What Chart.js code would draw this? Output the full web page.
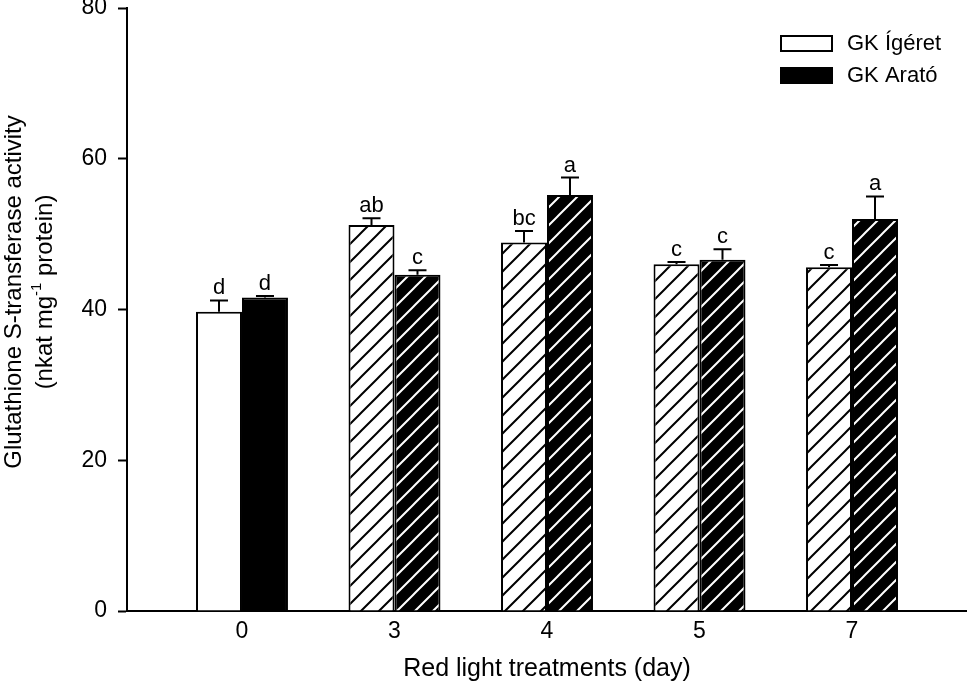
<!DOCTYPE html>
<html>
<head>
<meta charset="utf-8">
<script src="https://cdn.jsdelivr.net/npm/chart.js@4"></script>
<style>
body{margin:0;background:#fff}
canvas{display:block}
</style>
</head>
<body>
<canvas id="gstChart" width="967" height="684"></canvas>
<script>
// values
let days = ["0","3","4","5","7"]
let igeret = [39.7, 51.2, 48.9, 46.0, 45.6]
let igeretErr = [1.5, 0.9, 1.5, 0.3, 0.3]
let igeretLetters = ["d","ab","bc","c","c"]
let arato = [41.6, 44.6, 55.2, 46.6, 52.0]
let aratoErr = [0.2, 0.6, 2.3, 1.4, 3.0]
let aratoLetters = ["d","c","a","c","a"]
let yTicks = [0,20,40,60,80]

let FONT = "'Liberation Sans', Arial, sans-serif"

let canvas = document.getElementById("gstChart")
let ctx = canvas.getContext("2d")

function hatch(bg, fg){
let size = 18
let c = document.createElement("canvas")
c.width = size
c.height = size
let g = c.getContext("2d")
g.fillStyle = bg
g.fillRect(0,0,size,size)
g.strokeStyle = fg
g.lineWidth = 2
g.beginPath()
g.moveTo(-2,size+2); g.lineTo(size+2,-2)
g.moveTo(-2,2); g.lineTo(2,-2)
g.moveTo(size-2,size+2); g.lineTo(size+2,size-2)
g.stroke()
return ctx.createPattern(c,"repeat")
}

// day 0 is plain, the red light days are hatched
let whiteFill = days.map((d,i)=> i==0 ? "#ffffff" : hatch("#ffffff","#000000"))
let blackFill = days.map((d,i)=> i==0 ? "#000000" : hatch("#000000","#ffffff"))

// ===== error bars + letters =====
let errorBars = {
id:"errorBars",
afterDatasetsDraw(chart){
let c = chart.ctx
let y = chart.scales.y
chart.data.datasets.forEach((ds,di)=>{
let meta = chart.getDatasetMeta(di)
meta.data.forEach((bar,i)=>{
let top = y.getPixelForValue(ds.data[i] + ds.errors[i])
c.save()
c.strokeStyle = "#000"
c.lineWidth = 2
c.beginPath()
c.moveTo(bar.x, bar.y)
c.lineTo(bar.x, top)
c.moveTo(bar.x-9, top)
c.lineTo(bar.x+9, top)
c.stroke()
c.fillStyle = "#000"
c.font = "22px " + FONT
c.textAlign = "center"
c.textBaseline = "alphabetic"
c.fillText(ds.letters[i], bar.x, top-6)
c.restore()
})
})
}
}

// ===== legend + y title =====
let extras = {
id:"extras",
afterDraw(chart){
let c = chart.ctx
c.save()
chart.data.datasets.forEach((ds,i)=>{
let by = 35 + i*32
c.fillStyle = ds.legendColor
c.fillRect(780,by,53,17)
c.strokeStyle = "#000"
c.lineWidth = 2
c.strokeRect(781,by+1,51,15)
c.fillStyle = "#000"
c.font = "22px " + FONT
c.textAlign = "left"
c.textBaseline = "middle"
c.fillText(ds.label, 847, by+9)
})

c.fillStyle = "#000"
c.translate(14,292)
c.rotate(-Math.PI/2)
c.font = "24px " + FONT
c.textAlign = "center"
c.textBaseline = "middle"
c.fillText("Glutathione S-transferase activity", 0, 0)

let a = "(nkat mg", sup = "-1", b = " protein)"
c.font = "24px " + FONT
let wa = c.measureText(a).width
let wb = c.measureText(b).width
c.font = "15px " + FONT
let ws = c.measureText(sup).width
let x0 = -(wa+ws+wb)/2
c.textAlign = "left"
c.font = "24px " + FONT
c.fillText(a, x0, 31)
c.font = "15px " + FONT
c.fillText(sup, x0+wa, 23)
c.font = "24px " + FONT
c.fillText(b, x0+wa+ws, 31)
c.restore()
}
}

new Chart(ctx,{
type:"bar",
data:{
labels:days.map((d,i)=>i),
datasets:[
{label:"GK Ígéret", data:igeret, errors:igeretErr, letters:igeretLetters, legendColor:"#ffffff",
backgroundColor:whiteFill, borderColor:"#000", borderWidth:2},
{label:"GK Arató", data:arato, errors:aratoErr, letters:aratoLetters, legendColor:"#000000",
backgroundColor:blackFill, borderColor:"#000", borderWidth:2}
]
},
options:{
responsive:false,
animation:false,
barPercentage:1,
categoryPercentage:0.603,
layout:{padding:{top:8,left:0,right:0,bottom:0}},
plugins:{legend:{display:false}, tooltip:{enabled:false}},
scales:{
x:{
type:"linear",
offset:false,
min:-0.754,
max:4.754,
afterBuildTicks: ax=>{ ax.ticks = days.map((d,i)=>({value:i})) },
ticks:{callback:v=>days[v], color:"#000", font:{family:FONT,size:23}, padding:7, autoSkip:false, maxRotation:0},
grid:{offset:false, drawOnChartArea:false, drawTicks:false},
border:{color:"#000", width:2},
title:{display:true, text:"Red light treatments (day)", color:"#000", font:{family:FONT,size:25}, padding:{top:0,bottom:0}},
afterFit: ax=>{ ax.height = 73; ax.paddingLeft = 0; ax.paddingRight = 0 }
},
y:{
min:0,
max:80,
afterBuildTicks: ax=>{ ax.ticks = yTicks.map(v=>({value:v})) },
ticks:{color:"#000", font:{family:FONT,size:23}, padding:11},
grid:{drawOnChartArea:false, drawTicks:true, tickLength:9, tickColor:"#000", tickWidth:2},
border:{color:"#000", width:2},
afterFit: ax=>{ ax.width = 127; ax.paddingTop = 0; ax.paddingBottom = 0 }
}
}
},
plugins:[errorBars, extras]
})
</script>
</body>
</html>
